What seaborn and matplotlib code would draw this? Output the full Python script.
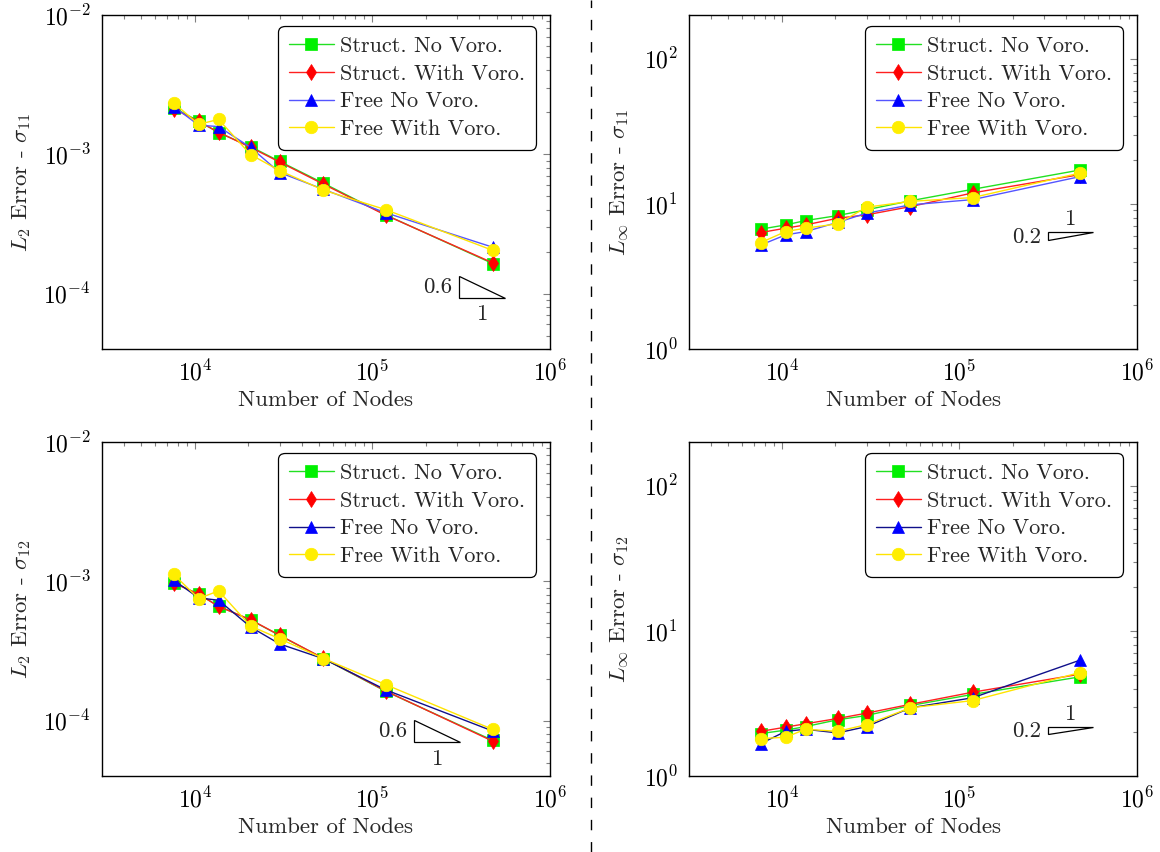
import numpy as np
import pandas as pd
import matplotlib
matplotlib.use("Agg")
import matplotlib.pyplot as plt
import seaborn as sns
from matplotlib.lines import Line2D

# ---------------------------------------------------------------- data
nodes = [7600, 10500, 13600, 20600, 30000, 53000, 119000, 477000]

series_labels = ["Struct. No Voro.", "Struct. With Voro.", "Free No Voro.", "Free With Voro."]

# L2 error, sigma_11
l2_s11_struct_no = [2.16e-3, 1.73e-3, 1.43e-3, 1.135e-3, 8.9e-4, 6.2e-4, 3.67e-4, 1.64e-4]
l2_s11_struct_with = [2.12e-3, 1.72e-3, 1.44e-3, 1.12e-3, 8.8e-4, 6.1e-4, 3.65e-4, 1.66e-4]
l2_s11_free_no = [2.2e-3, 1.62e-3, 1.58e-3, 1.12e-3, 7.4e-4, 5.6e-4, 3.8e-4, 2.15e-4]
l2_s11_free_with = [2.34e-3, 1.64e-3, 1.78e-3, 9.95e-4, 7.64e-4, 5.53e-4, 4.0e-4, 2.04e-4]

# Linf error, sigma_11
linf_s11_struct_no = [6.69, 7.16, 7.67, 8.3, 9.1, 10.5, 12.6, 17.1]
linf_s11_struct_with = [6.34, 6.8, 7.16, 7.96, 8.4, 9.57, 11.9, 15.9]
linf_s11_free_no = [5.2, 6.11, 6.44, 7.45, 8.63, 9.84, 10.7, 15.4]
linf_s11_free_with = [5.41, 6.44, 6.8, 7.28, 9.48, 10.4, 11.05, 16.3]

# L2 error, sigma_12
l2_s12_struct_no = [9.8e-4, 8.07e-4, 6.63e-4, 5.27e-4, 4.09e-4, 2.79e-4, 1.62e-4, 7.2e-5]
l2_s12_struct_with = [9.7e-4, 8.1e-4, 6.6e-4, 5.3e-4, 4.1e-4, 2.8e-4, 1.63e-4, 7.1e-5]
l2_s12_free_no = [1.02e-3, 7.6e-4, 7.31e-4, 4.7e-4, 3.55e-4, 2.78e-4, 1.66e-4, 8.4e-5]
l2_s12_free_with = [1.12e-3, 7.52e-4, 8.53e-4, 4.77e-4, 3.87e-4, 2.79e-4, 1.81e-4, 8.63e-5]

# Linf error, sigma_12
linf_s12_struct_no = [1.96, 2.07, 2.19, 2.44, 2.61, 3.06, 3.65, 4.82]
linf_s12_struct_with = [2.03, 2.17, 2.29, 2.49, 2.71, 3.12, 3.78, 5.03]
linf_s12_free_no = [1.67, 2.03, 2.1, 1.98, 2.19, 2.95, 3.46, 6.28]
linf_s12_free_with = [1.81, 1.85, 2.1, 2.03, 2.26, 2.95, 3.31, 5.16]

# ---------------------------------------------------------------- style
sns.set_theme(style="white")
plt.rcParams.update({
    "font.family": ["cmr10", "DejaVu Serif"],
    "mathtext.fontset": "cm",
    "axes.formatter.use_mathtext": True,
    "font.size": 16,
    "axes.edgecolor": "black",
    "axes.linewidth": 1.0,
    "axes.unicode_minus": True,
})

W, H = 1160, 852
fig = plt.figure(figsize=(W / 100, H / 100), dpi=100)
fig.patch.set_facecolor("white")

# marker, marker size, marker colour, line colour
styles_top = [
    ("s", 8.6, "#00f000", "#22e022"),
    ("d", 8.4, "#ff0000", "#ff2020"),
    ("^", 8.0, "#0000ff", "#5555ff"),
    ("o", 9.0, "#ffee00", "#ffe400"),
]
styles_bottom = [
    ("s", 8.6, "#00f000", "#22e022"),
    ("d", 8.4, "#ff0000", "#ff2020"),
    ("^", 8.0, "#0000ff", "#10108a"),
    ("o", 9.0, "#ffee00", "#ffe400"),
]


def axes_rect(left, top):
    return [left / W, (H - top - 334) / H, 448 / W, 334 / H]


def draw_panel(rect, curves, ylim, ylabel, styles, ylabel_x):
    ax = fig.add_axes(rect)
    for label, yvals, (mk, ms, mcol, lcol) in zip(series_labels, curves, styles):
        sns.lineplot(x=nodes, y=yvals, ax=ax, sort=False, estimator=None,
                     color=lcol, linewidth=1.0, marker=mk, markersize=ms,
                     markerfacecolor=mcol, markeredgecolor=mcol,
                     markeredgewidth=0.5, label=label)
    ax.set_xscale("log")
    ax.set_yscale("log")
    ax.set_xlim(3e3, 1e6)
    ax.set_ylim(*ylim)
    ax.tick_params(which="both", direction="in", top=True, right=True,
                   color="#808080", width=0.8, pad=8, labelsize=17,
                   labelcolor="black")
    ax.tick_params(which="major", length=5)
    ax.tick_params(which="minor", length=3)
    ax.set_xlabel("Number of Nodes", fontsize=16.5)
    ax.set_ylabel(ylabel, fontsize=16.5)
    ax.xaxis.set_label_coords(0.5, -0.125)
    ax.yaxis.set_label_coords(ylabel_x, 0.5)
    for sp in ax.spines.values():
        sp.set_color("black")
        sp.set_linewidth(1.0)
    leg = ax.legend(loc="upper right", bbox_to_anchor=(1 - 18 / 448, 1 - 15 / 334),
                    borderaxespad=0, fontsize=16, frameon=True, fancybox=True,
                    framealpha=1, edgecolor="black", facecolor="white",
                    handlelength=2.0, handletextpad=0.3, borderpad=0.3,
                    labelspacing=0.36, numpoints=1)
    leg.get_frame().set_linewidth(0.9)
    leg.get_frame().set_boxstyle("round", pad=0.2, rounding_size=0.3)
    return ax


def slope_down(ax, x_left, y_bottom, width_dec, slope):
    x_right = x_left * 10 ** width_dec
    y_top = y_bottom * 10 ** (slope * width_dec)
    ax.fill([x_left, x_left, x_right], [y_top, y_bottom, y_bottom],
            facecolor="white", edgecolor="black", linewidth=0.9, zorder=5)
    ymid = np.sqrt(y_top * y_bottom)
    ax.annotate(f"{slope:g}", (x_left, ymid), xytext=(-7, 0),
                textcoords="offset pixels", ha="right", va="center", fontsize=16.5)
    ax.annotate("1", (np.sqrt(x_left * x_right), y_bottom), xytext=(0, -7),
                textcoords="offset pixels", ha="center", va="top", fontsize=16.5)


def slope_up(ax, x_left, y_top, width_dec, slope):
    x_right = x_left * 10 ** width_dec
    y_bottom = y_top / 10 ** (slope * width_dec)
    ax.fill([x_left, x_left, x_right], [y_bottom, y_top, y_top],
            facecolor="white", edgecolor="black", linewidth=0.9, zorder=5)
    ymid = np.sqrt(y_top * y_bottom)
    ax.annotate(f"{slope:g}", (x_left, ymid), xytext=(-7, -1),
                textcoords="offset pixels", ha="right", va="center", fontsize=16.5)
    ax.annotate("1", (np.sqrt(x_left * x_right), y_top), xytext=(0, 3),
                textcoords="offset pixels", ha="center", va="bottom", fontsize=16.5)


ax_tl = draw_panel(axes_rect(102, 15),
                   [l2_s11_struct_no, l2_s11_struct_with, l2_s11_free_no, l2_s11_free_with],
                   (4e-5, 1e-2), r"$L_2$ Error - $\sigma_{11}$", styles_top, -0.153)
slope_down(ax_tl, 3.08e5, 10 ** -4.031, 0.26, 0.6)

ax_tr = draw_panel(axes_rect(689, 15),
                   [linf_s11_struct_no, linf_s11_struct_with, linf_s11_free_no, linf_s11_free_with],
                   (1, 200), r"$L_\infty$ Error - $\sigma_{11}$", styles_top, -0.13)
slope_up(ax_tr, 3.14e5, 10 ** 0.804, 0.254, 0.2)

ax_bl = draw_panel(axes_rect(102, 442),
                   [l2_s12_struct_no, l2_s12_struct_with, l2_s12_free_no, l2_s12_free_with],
                   (4e-5, 1e-2), r"$L_2$ Error - $\sigma_{12}$", styles_bottom, -0.153)
slope_down(ax_bl, 1.72e5, 10 ** -4.155, 0.26, 0.6)

ax_br = draw_panel(axes_rect(689, 442),
                   [linf_s12_struct_no, linf_s12_struct_with, linf_s12_free_no, linf_s12_free_with],
                   (1, 200), r"$L_\infty$ Error - $\sigma_{12}$", styles_bottom, -0.13)
slope_up(ax_br, 3.14e5, 10 ** 0.338, 0.254, 0.2)

# dashed separator between the two columns
fig.add_artist(Line2D([590.7 / W, 590.7 / W], [0, 1], transform=fig.transFigure,
                      color="black", linewidth=1.0, linestyle=(0, (7.5, 8.5))))

fig.savefig("out.png", dpi=100, facecolor="white")
